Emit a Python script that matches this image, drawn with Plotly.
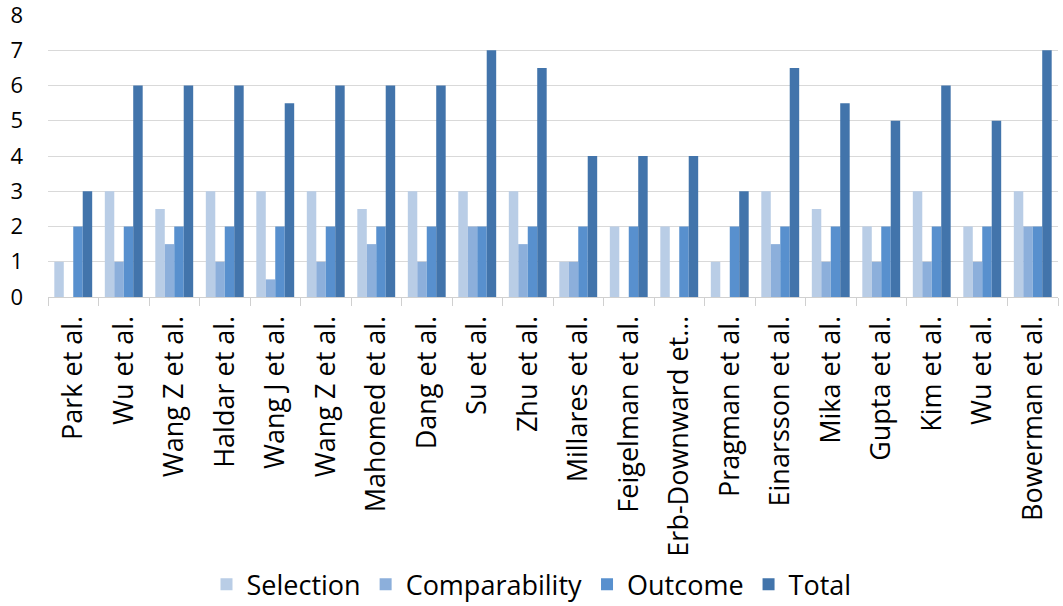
import plotly.graph_objs as go

# study names (two pairs repeat, so x is positional)
studies = ["Park et al.", "Wu et al.", "Wang Z et al.", "Haldar et al.", "Wang J et al.",
           "Wang Z et al.", "Mahomed et al.", "Dang et al.", "Su et al.", "Zhu et al.",
           "Millares et al.", "Feigelman et al.", "Erb-Downward et…", "Pragman et al.",
           "Einarsson et al.", "Mika et al.", "Gupta et al.", "Kim et al.", "Wu et al.",
           "Bowerman et al."]

selection = [1, 3, 2.5, 3, 3, 3, 2.5, 3, 3, 3, 1, 2, 2, 1, 3, 2.5, 2, 3, 2, 3]
comparability = [0, 1, 1.5, 1, 0.5, 1, 1.5, 1, 2, 1.5, 1, 0, 0, 0, 1.5, 1, 1, 1, 1, 2]
outcome = [2, 2, 2, 2, 2, 2, 2, 2, 2, 2, 2, 2, 2, 2, 2, 2, 2, 2, 2, 2]
total = [3, 6, 6, 6, 5.5, 6, 6, 6, 7, 6.5, 4, 4, 4, 3, 6.5, 5.5, 5, 6, 5, 7]

y_ticks = [0, 1, 2, 3, 4, 5, 6, 7, 8]

x = list(range(len(studies)))
font_name = "Open Sans"

series = [
    ("Selection", selection, "#B9CDE6"),
    ("Comparability", comparability, "#8CAFDB"),
    ("Outcome", outcome, "#5890CE"),
    ("Total", total, "#4274AB"),
]

fig = go.Figure()
for name, vals, color in series:
    fig.add_trace(go.Bar(x=x, y=vals, name=name, marker_color=color, marker_line_width=0))

fig.update_layout(
    width=1063, height=606,
    barmode="group",
    bargap=0.25,
    bargroupgap=0,
    plot_bgcolor="white",
    paper_bgcolor="white",
    margin=dict(l=48, r=5, t=15, b=309),
    font=dict(family=font_name, size=22, color="#000000"),
    legend=dict(orientation="h", x=0.5, xanchor="center", xref="container",
                y=0.035, yanchor="middle", yref="container",
                font=dict(size=27), traceorder="normal"),
    showlegend=True,
)

fig.update_xaxes(
    range=[-0.5, len(studies) - 0.5],
    tickmode="array", tickvals=x, ticktext=studies,
    tickangle=-90, ticks="",
    tickfont=dict(size=27),
    ticklabelstandoff=7,
    automargin=False,
    showline=True, linecolor="#D0D0D0", linewidth=1,
    showgrid=False, zeroline=False,
    minor=dict(tickvals=[i - 0.5 for i in range(len(studies) + 1)], ticks="outside",
               ticklen=8, tickcolor="#D0D0D0", showgrid=False),
)

fig.update_yaxes(
    range=[0, 8],
    tickmode="array", tickvals=y_ticks,
    tickfont=dict(size=22),
    ticklabelstandoff=24,
    ticklabeloverflow="allow",
    automargin=False,
    showgrid=True, gridcolor="#D9D9D9", gridwidth=1,
    zeroline=False, showline=False, ticks="",
)

# page body has a default 8px margin, drop it so the figure fills the window
fig.write_html("out.html", config={"displayModeBar": False},
               post_script="document.body.style.margin='0';")
